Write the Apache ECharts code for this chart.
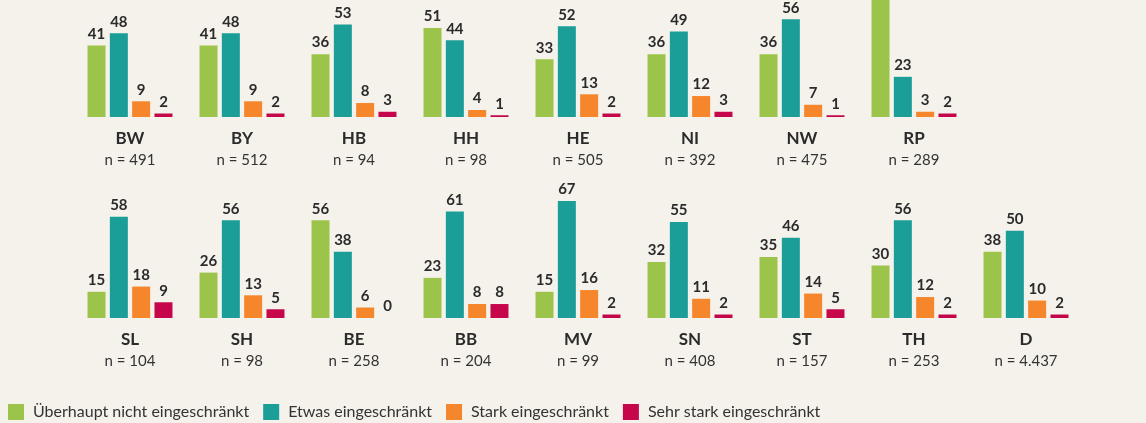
<!DOCTYPE html>
<html>
<head>
<meta charset="utf-8">
<script src="https://cdn.jsdelivr.net/npm/echarts@6/dist/echarts.min.js"></script>
<style>
  html, body { margin: 0; padding: 0; background: #f5f2eb; }
  #main { width: 1146px; height: 423px; }
</style>
</head>
<body>
<div id="main"></div>
<script>
// Reihe 1
var states1 = ['BW', 'BY', 'HB', 'HH', 'HE', 'NI', 'NW', 'RP'];
var n1 = ['491', '512', '94', '98', '505', '392', '475', '289'];
var gar1 = [41, 41, 36, 51, 33, 36, 36, 72];
var etwas1 = [48, 48, 53, 44, 52, 49, 56, 23];
var stark1 = [9, 9, 8, 4, 13, 12, 7, 3];
var sehr1 = [2, 2, 3, 1, 2, 3, 1, 2];

// Reihe 2
var states2 = ['SL', 'SH', 'BE', 'BB', 'MV', 'SN', 'ST', 'TH', 'D'];
var n2 = ['104', '98', '258', '204', '99', '408', '157', '253', '4.437'];
var gar2 = [15, 26, 56, 23, 15, 32, 35, 30, 38];
var etwas2 = [58, 56, 38, 61, 67, 55, 46, 56, 50];
var stark2 = [18, 13, 6, 8, 16, 11, 14, 12, 10];
var sehr2 = [9, 5, 0, 8, 2, 2, 5, 2, 2];

var names = ['Überhaupt nicht eingeschränkt', 'Etwas eingeschränkt', 'Stark eingeschränkt', 'Sehr stark eingeschränkt'];
var colors = ['#9dc44a', '#1a9e97', '#f5862b', '#c5064b'];
var yMax = 67;

var chart = echarts.init(document.getElementById('main'));

function cats(states, ns) {
    var arr = [];
    for (var i = 0; i < 9; i++) {
        arr.push(i < states.length ? states[i] + '|' + ns[i] : '');
    }
    return arr;
}

function xAxis(idx, states, ns) {
    return {
        type: 'category',
        gridIndex: idx,
        data: cats(states, ns),
        axisLine: { show: false },
        axisTick: { show: false },
        axisLabel: {
            margin: 12,
            interval: 0,
            formatter: function (v) {
                if (!v) return '';
                var p = v.split('|');
                return '{s|' + p[0] + '}\n{n|n = ' + p[1] + '}';
            },
            rich: {
                s: { fontFamily: 'Lato', fontWeight: 'bold', fontSize: 17, color: '#2b2b2b', lineHeight: 20 },
                n: { fontFamily: 'Lato', fontSize: 15, color: '#333', lineHeight: 22 }
            }
        }
    };
}

function bars(idx, values, k) {
    return {
        name: names[k],
        type: 'bar',
        xAxisIndex: idx,
        yAxisIndex: idx,
        barWidth: 18,
        barGap: '24%',
        clip: true,
        itemStyle: { color: colors[k] },
        label: {
            show: true,
            position: 'top',
            distance: 4,
            fontFamily: 'Lato',
            fontWeight: 'bold',
            fontSize: 15,
            color: '#2b2b2b'
        },
        data: values.map(function (v) {
            // Balken über dem Rand: Beschriftung ist abgeschnitten
            return v > yMax ? { value: v, label: { show: false } } : v;
        })
    };
}

var option = {
    backgroundColor: '#f5f2eb',
    animation: false,
    legend: {
        data: names,
        left: 3,
        top: 399,
        padding: 5,
        itemWidth: 16,
        itemHeight: 16,
        itemGap: 14,
        icon: 'rect',
        textStyle: { fontFamily: 'Lato', fontSize: 16, color: '#333', padding: [0, 0, 0, 4] }
    },
    grid: [
        { left: 74, width: 1008, top: 0, height: 117 },
        { left: 74, width: 1008, top: 201, height: 117 }
    ],
    xAxis: [xAxis(0, states1, n1), xAxis(1, states2, n2)],
    yAxis: [
        { type: 'value', gridIndex: 0, min: 0, max: yMax, show: false },
        { type: 'value', gridIndex: 1, min: 0, max: yMax, show: false }
    ],
    series: [
        bars(0, gar1, 0), bars(0, etwas1, 1), bars(0, stark1, 2), bars(0, sehr1, 3),
        bars(1, gar2, 0), bars(1, etwas2, 1), bars(1, stark2, 2), bars(1, sehr2, 3)
    ]
};

chart.setOption(option);
</script>
</body>
</html>
